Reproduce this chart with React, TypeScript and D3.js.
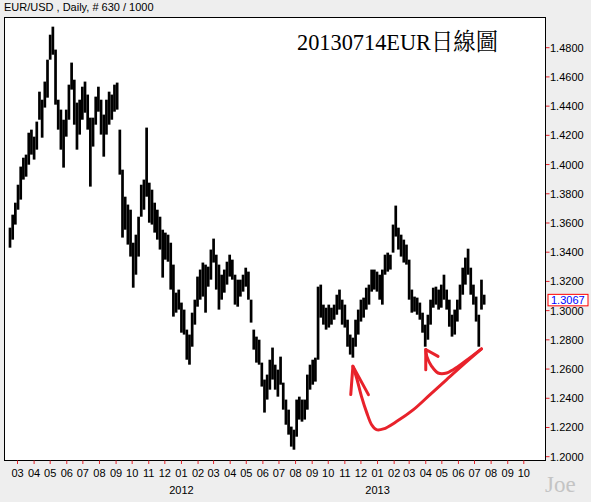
import React from "react";
import * as d3 from "d3";

const W = 591;
const H = 502;

const symbolLabel = "EUR/USD , Daily, # 630 / 1000";
const titleText = "20130714EUR日線圖";
const watermark = "Joe";
const lastPrice = 1.3067;

// bars: one every 5 calendar days starting from firstBarDate
const firstBarDate = "2011-02-15";
const barStepDays = 5;

const highs = [
  1.3568, 1.3657, 1.3739, 1.3862, 1.3986, 1.4047, 1.4068, 1.4218, 1.4239, 1.4191,
  1.4294, 1.4499, 1.4444, 1.4568, 1.4718, 1.4889, 1.4944, 1.4787, 1.4444, 1.4376,
  1.4307, 1.4376, 1.4547, 1.4698, 1.4581, 1.4424, 1.4444, 1.4533, 1.4568, 1.4479,
  1.4321, 1.4321, 1.4465, 1.4533, 1.4444, 1.4342, 1.4444, 1.4499, 1.4479, 1.4547,
  1.4561, 1.4239, 1.3965, 1.378, 1.3726, 1.3691, 1.3465, 1.352, 1.3643, 1.3862,
  1.3897, 1.4253, 1.3876, 1.3828, 1.3739, 1.3691, 1.3643, 1.3554, 1.3534, 1.352,
  1.3465, 1.3315, 1.3123, 1.3144, 1.3055, 1.3007, 1.287, 1.2836, 1.2986, 1.3075,
  1.3233, 1.3281, 1.3329, 1.3315, 1.3301, 1.3418, 1.3493, 1.3383, 1.3315, 1.3246,
  1.3281, 1.3335, 1.3383, 1.3349, 1.3246, 1.3212, 1.3212, 1.3246, 1.3294, 1.3267,
  1.3075, 1.287, 1.2822, 1.2801, 1.2644, 1.2528, 1.2562, 1.2664, 1.2747, 1.263,
  1.2596, 1.2685, 1.2507, 1.2391, 1.2322, 1.2206, 1.2185, 1.2391, 1.2411, 1.2391,
  1.2391, 1.2562, 1.263, 1.2664, 1.2678, 1.3164, 1.3178, 1.3041, 1.302, 1.3041,
  1.302, 1.3041, 1.3109, 1.3144, 1.3075, 1.3041, 1.2938, 1.2836, 1.2815, 1.2938,
  1.3007, 1.3075, 1.3089, 1.3157, 1.3178, 1.3281, 1.3281, 1.3267, 1.3246, 1.3281,
  1.3383, 1.3397, 1.3383, 1.3589, 1.3719, 1.3568, 1.352, 1.3486, 1.3452, 1.3349,
  1.3144, 1.3096, 1.3089, 1.3055, 1.2986, 1.2904, 1.2972, 1.3075, 1.3157, 1.3164,
  1.3144, 1.3178, 1.3246, 1.3144, 1.3075, 1.2972, 1.3007, 1.3075, 1.3178, 1.3294,
  1.3363, 1.3424, 1.3294, 1.3178, 1.3096, 1.2972, 1.3212, 1.3109,
];

const lows = [
  1.3431, 1.3486, 1.3589, 1.3691, 1.376, 1.3897, 1.3917, 1.3999, 1.4068, 1.4034,
  1.4102, 1.4307, 1.4184, 1.439, 1.4458, 1.4718, 1.4752, 1.441, 1.4239, 1.4102,
  1.3979, 1.4191, 1.4307, 1.4513, 1.4273, 1.4102, 1.4205, 1.4307, 1.4355, 1.4239,
  1.3849, 1.4123, 1.4273, 1.4362, 1.4205, 1.4054, 1.4205, 1.4273, 1.4307, 1.4362,
  1.4376, 1.3931, 1.35, 1.3554, 1.3452, 1.337, 1.3157, 1.3246, 1.337, 1.3643,
  1.3691, 1.378, 1.3602, 1.3589, 1.3534, 1.3486, 1.3418, 1.3226, 1.3349, 1.3335,
  1.3144, 1.2959, 1.2986, 1.3007, 1.2849, 1.2836, 1.2664, 1.263, 1.2753, 1.2904,
  1.3027, 1.3075, 1.3096, 1.2986, 1.3164, 1.3212, 1.3329, 1.3144, 1.3007, 1.3075,
  1.3123, 1.3178, 1.3233, 1.3212, 1.3041, 1.3027, 1.3096, 1.313, 1.3164, 1.3075,
  1.2918, 1.2733, 1.2644, 1.263, 1.248, 1.2302, 1.2391, 1.2459, 1.2528, 1.2459,
  1.2411, 1.2493, 1.2322, 1.2219, 1.2151, 1.2069, 1.2048, 1.2137, 1.2254, 1.224,
  1.2254, 1.2322, 1.2459, 1.2493, 1.2514, 1.2664, 1.2952, 1.2904, 1.287, 1.2884,
  1.2904, 1.2938, 1.2972, 1.3007, 1.2904, 1.2884, 1.2753, 1.2699, 1.2678, 1.2753,
  1.2836, 1.2925, 1.2952, 1.3007, 1.3041, 1.313, 1.3144, 1.313, 1.3075, 1.3041,
  1.3246, 1.3267, 1.3281, 1.3397, 1.3507, 1.3418, 1.337, 1.3329, 1.3315, 1.3075,
  1.2986, 1.2993, 1.2972, 1.2938, 1.2849, 1.2753, 1.2801, 1.2904, 1.302, 1.3041,
  1.3007, 1.302, 1.3075, 1.3007, 1.289, 1.2822, 1.2836, 1.2925, 1.3007, 1.3109,
  1.3178, 1.3246, 1.3109, 1.3041, 1.2925, 1.2753, 1.3007, 1.3041,
];

const priceTicks = [
  1.2, 1.22, 1.24, 1.26, 1.28, 1.3, 1.32, 1.34, 1.36, 1.38, 1.4, 1.42, 1.44, 1.46, 1.48,
];

const axisStart = "2011-03-01";
const axisEnd = "2013-10-01";

// hand-drawn red arrows (date, price)
const bigArrow: [string, number][] = [
  ["2013-07-14", 1.2738],
  ["2013-06-10", 1.263],
  ["2013-05-10", 1.2528],
  ["2013-04-09", 1.2425],
  ["2013-03-09", 1.2322],
  ["2013-02-06", 1.2242],
  ["2013-01-12", 1.219],
  ["2012-12-30", 1.2185],
  ["2012-12-21", 1.2219],
  ["2012-12-12", 1.23],
  ["2012-12-02", 1.2413],
  ["2012-11-23", 1.2539],
  ["2012-11-16", 1.2619],
];
const bigArrowHead: [string, number][] = [
  ["2012-11-12", 1.2425],
  ["2012-11-16", 1.2619],
  ["2012-12-15", 1.2425],
];
const smallArrow: [string, number][] = [
  ["2013-07-14", 1.2738],
  ["2013-06-22", 1.2676],
  ["2013-06-01", 1.2619],
  ["2013-05-10", 1.2573],
  ["2013-04-24", 1.2573],
  ["2013-04-12", 1.2619],
  ["2013-04-03", 1.2687],
  ["2013-04-01", 1.2734],
];
const smallArrowHead: [string, number][] = [
  ["2013-04-01", 1.2596],
  ["2013-04-01", 1.2734],
  ["2013-04-24", 1.2687],
];

const parse = d3.utcParse("%Y-%m-%d");

export default function App() {
  const left = 4.5;
  const right = 545.5;
  const top = 17.5;
  const bottom = 460.5;

  const x = d3
    .scaleUtc()
    .domain([parse(axisStart)!, parse(axisEnd)!])
    .range([17.5, 523.8]);
  const y = d3.scaleLinear().domain([1.2, 1.48]).range([456.7, 47.7]);

  const start = parse(firstBarDate)!;
  const bars = highs.map((h, i) => ({
    date: d3.utcDay.offset(start, i * barStepDays),
    high: h,
    low: lows[i],
  }));

  const months = d3.utcMonth.range(parse(axisStart)!, d3.utcDay.offset(parse(axisEnd)!, 1));
  const fmtM = d3.utcFormat("%m");
  const fmtY = d3.utcFormat("%Y");
  const fmtP = d3.format(".4f");

  const line = d3
    .line<[string, number]>()
    .x((d) => x(parse(d[0])!))
    .y((d) => y(d[1]))
    .curve(d3.curveCatmullRom.alpha(0.5));
  const straight = d3
    .line<[string, number]>()
    .x((d) => x(parse(d[0])!))
    .y((d) => y(d[1]));

  const red = "#e8222b";
  const sans = "Arial, 'Liberation Sans', sans-serif";
  const bw = 2.7;

  return (
    <svg
      width={W}
      height={H}
      style={{ position: "absolute", left: 0, top: 0, display: "block" }}
    >
      <rect x={0} y={0} width={W} height={H} fill="#eeeeee" />
      <rect
        x={left}
        y={top}
        width={right - left}
        height={bottom - top}
        fill="#ffffff"
        stroke="#000"
        strokeWidth={1}
      />
      <text x={4} y={11} fontFamily={sans} fontSize={11} fill="#000">
        {symbolLabel}
      </text>

      {/* bars */}
      <g>
        {bars.map((b, i) => (
          <rect
            key={i}
            x={x(b.date) - bw / 2}
            y={y(b.high)}
            width={bw}
            height={Math.max(1, y(b.low) - y(b.high))}
            fill="#000"
          />
        ))}
      </g>

      {/* title */}
      <text
        x={297}
        y={50}
        fontFamily="'Liberation Serif', 'Noto Serif CJK TC', 'Noto Sans CJK TC', serif"
        fontSize={24}
        textLength={201}
        lengthAdjust="spacingAndGlyphs"
        fill="#000"
      >
        {titleText}
      </text>

      {/* right axis */}
      <g>
        {priceTicks.map((p) => (
          <g key={p}>
            <line x1={546} x2={549.5} y1={y(p)} y2={y(p)} stroke={red} strokeWidth={1} />
            <text x={550} y={y(p) + 4} fontFamily={sans} fontSize={11} fill="#000">
              {fmtP(p)}
            </text>
          </g>
        ))}
      </g>

      {/* last price box */}
      <rect x={548} y={y(lastPrice) - 6.5} width={40} height={11.5} fill="#ffffff" stroke="#ff0000" strokeWidth={1} />
      <text x={551} y={y(lastPrice) + 3.5} fontFamily={sans} fontSize={11} fill="#0000ff">
        {fmtP(lastPrice)}
      </text>

      {/* bottom axis */}
      <g>
        {months.map((m, i) => (
          <g key={i}>
            <line x1={x(m)} x2={x(m)} y1={460.5} y2={464} stroke={red} strokeWidth={1} />
            <text x={x(m)} y={477} textAnchor="middle" fontFamily={sans} fontSize={11} fill="#000">
              {fmtM(m)}
            </text>
            {m.getUTCMonth() === 0 && (
              <text x={x(m)} y={494} textAnchor="middle" fontFamily={sans} fontSize={11} fill="#000">
                {fmtY(m)}
              </text>
            )}
          </g>
        ))}
      </g>

      {/* arrows */}
      <g fill="none" stroke={red} strokeWidth={3} strokeLinecap="round" strokeLinejoin="round">
        <path d={line(bigArrow) || ""} />
        <path d={straight(bigArrowHead) || ""} />
        <path d={line(smallArrow) || ""} />
        <path d={straight(smallArrowHead) || ""} />
      </g>

      <text
        x={545}
        y={492}
        fontFamily="'Liberation Serif', serif"
        fontSize={23}
        fill="#c4c4c4"
      >
        {watermark}
      </text>
    </svg>
  );
}
